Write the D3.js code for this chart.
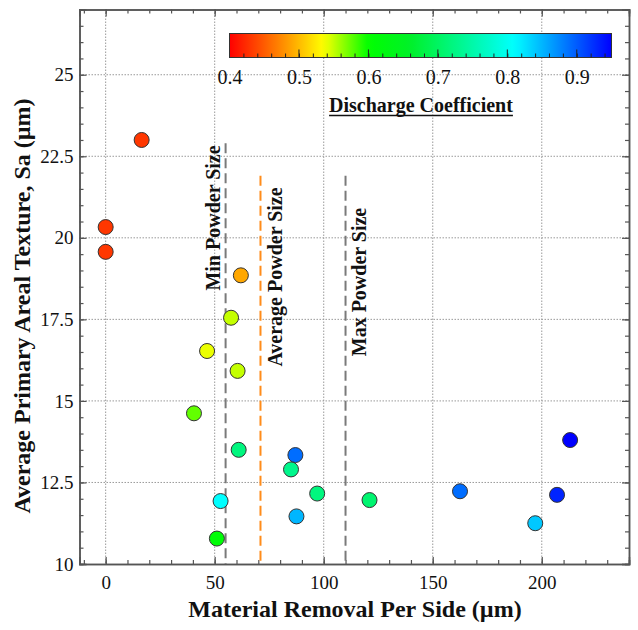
<!DOCTYPE html>
<html>
<head>
<meta charset="utf-8">
<script src="https://cdn.jsdelivr.net/npm/d3@7"></script>
<style>
  html, body { margin: 0; padding: 0; background: #fff; }
  svg { display: block; }
  text { font-family: "Liberation Serif", "Times New Roman", serif; fill: #111; }
</style>
</head>
<body>
<script>
// Material removal per side (µm)
const removal = [16.5, 0, 0, 62, 57.5, 46.5, 60.5, 40.5, 61, 87, 85, 97, 121, 52.7, 87.5, 51, 213, 162.5, 207, 197];
// Average primary areal texture Sa (µm)
const sa = [23.0, 20.33, 19.57, 18.85, 17.55, 16.53, 15.92, 14.62, 13.5, 13.34, 12.9, 12.16, 11.96, 11.93, 11.46, 10.78, 13.8, 12.23, 12.12, 11.25];
// Discharge coefficient (colour)
const discharge = [0.43, 0.43, 0.43, 0.49, 0.55, 0.54, 0.55, 0.575, 0.72, 0.89, 0.73, 0.72, 0.71, 0.81, 0.85, 0.61, 0.95, 0.89, 0.93, 0.84];

// Reference powder sizes (µm)
const powderNames = ["Min Powder Size", "Average Powder Size", "Max Powder Size"];
const powderSizes = [55, 71, 110];
const powderTops = [22.9, 21.9, 21.9];

const xTicks = [0, 50, 100, 150, 200];
const yTicks = [10, 12.5, 15, 17.5, 20, 22.5, 25];
const yTickLabels = ["10", "12.5", "15", "17.5", "20", "22.5", "25"];
const cbTicks = [0.4, 0.5, 0.6, 0.7, 0.8, 0.9];

const W = 638, H = 630;
const L = 79.5, R = 629, T = 9.5, B = 564;

const svg = d3.select("body").append("svg").attr("width", W).attr("height", H);
svg.append("rect").attr("width", W).attr("height", H).attr("fill", "#fff");

const x = d3.scaleLinear().domain([-12, 240]).range([L, R]);
const y = d3.scaleLinear().domain([10, 27]).range([B, T]);

// rainbow colour map, red -> yellow -> green -> cyan -> blue
const color = d3.scaleLinear()
  .domain([0.4, 0.47, 0.535, 0.6, 0.66, 0.81, 0.95])
  .range(["#ff0000", "#ff8000", "#ffff00", "#00ff00", "#00f028", "#00ffff", "#0000ff"])
  .clamp(true);

// grid
const grid = svg.append("g");
grid.selectAll("line.gx").data(xTicks).join("line")
  .attr("x1", d => x(d)).attr("x2", d => x(d)).attr("y1", T).attr("y2", B)
  .attr("stroke", "#9a9a9a").attr("stroke-width", 1).attr("stroke-dasharray", "1.5,1.5");
grid.selectAll("line.gy").data(yTicks.slice(1)).join("line")
  .attr("x1", L).attr("x2", R).attr("y1", d => y(d)).attr("y2", d => y(d))
  .attr("stroke", "#9a9a9a").attr("stroke-width", 1).attr("stroke-dasharray", "1.5,1.5");

// axes on all four sides, ticks pointing inward
const axisColor = "#555";
const xMinor = d3.range(-10, 241, 10);
const yMinor = d3.range(10, 27.01, 0.5);

const axBottom = svg.append("g").attr("transform", `translate(0,${B})`)
  .call(d3.axisBottom(x).tickValues(xMinor).tickSize(-4).tickFormat(""));
const axBottomMaj = svg.append("g").attr("transform", `translate(0,${B})`)
  .call(d3.axisBottom(x).tickValues(xTicks).tickSize(-7).tickPadding(12).tickFormat(d3.format("d")));
const axTop = svg.append("g").attr("transform", `translate(0,${T})`)
  .call(d3.axisTop(x).tickValues(xMinor).tickSize(-4).tickFormat(""));
const axTopMaj = svg.append("g").attr("transform", `translate(0,${T})`)
  .call(d3.axisTop(x).tickValues(xTicks).tickSize(-7).tickFormat(""));
const axLeft = svg.append("g").attr("transform", `translate(${L},0)`)
  .call(d3.axisLeft(y).tickValues(yMinor).tickSize(-4).tickFormat(""));
const axLeftMaj = svg.append("g").attr("transform", `translate(${L},0)`)
  .call(d3.axisLeft(y).tickValues(yTicks).tickSize(-7).tickPadding(6).tickFormat((d, i) => yTickLabels[i]));
const axRight = svg.append("g").attr("transform", `translate(${R},0)`)
  .call(d3.axisRight(y).tickValues(yMinor).tickSize(-4).tickFormat(""));
const axRightMaj = svg.append("g").attr("transform", `translate(${R},0)`)
  .call(d3.axisRight(y).tickValues(yTicks).tickSize(-7).tickFormat(""));

[axBottom, axBottomMaj, axTop, axTopMaj, axLeft, axLeftMaj, axRight, axRightMaj].forEach(g => {
  g.selectAll(".domain").attr("stroke", axisColor).attr("stroke-width", 1.5);
  g.selectAll(".tick line").attr("stroke", axisColor).attr("stroke-width", 1.2);
  g.selectAll(".tick text").attr("font-size", 19).attr("font-family", "Liberation Serif").attr("fill", "#111");
});

// powder size reference lines
const ref = svg.append("g");
powderSizes.forEach((v, i) => {
  ref.append("line")
    .attr("x1", x(v)).attr("x2", x(v)).attr("y1", y(powderTops[i])).attr("y2", B)
    .attr("stroke", i === 1 ? "#ff8c1a" : "#7a7a7a")
    .attr("stroke-width", 2)
    .attr("stroke-dasharray", "10,5");
});
const labelPos = [[213, 218], [275, 277], [359, 282]];
powderNames.forEach((name, i) => {
  ref.append("text")
    .attr("transform", `translate(${labelPos[i][0]},${labelPos[i][1]}) rotate(-90)`)
    .attr("text-anchor", "middle").attr("dy", "0.35em")
    .attr("font-size", 20).attr("font-weight", "bold")
    .text(name);
});

// data points
svg.append("g").selectAll("circle").data(removal).join("circle")
  .attr("cx", (d, i) => x(removal[i]))
  .attr("cy", (d, i) => y(sa[i]))
  .attr("r", 7.5)
  .attr("fill", (d, i) => color(discharge[i]))
  .attr("stroke", "#333").attr("stroke-width", 1);

// colour bar
const cbX0 = 229.5, cbX1 = 611.5, cbY0 = 33.5, cbY1 = 57.5;
const cb = d3.scaleLinear().domain([0.4, 0.95]).range([cbX0, cbX1]);
const defs = svg.append("defs");
const grad = defs.append("linearGradient").attr("id", "cbGrad")
  .attr("x1", "0%").attr("x2", "100%").attr("y1", "0%").attr("y2", "0%");
d3.range(0, 1.0001, 0.02).forEach(t => {
  grad.append("stop").attr("offset", `${t * 100}%`).attr("stop-color", color(0.4 + t * 0.55));
});
svg.append("rect")
  .attr("x", cbX0).attr("y", cbY0).attr("width", cbX1 - cbX0).attr("height", cbY1 - cbY0)
  .attr("fill", "url(#cbGrad)").attr("stroke", "#333").attr("stroke-width", 1);
const cbAxis = svg.append("g").attr("transform", `translate(0,${cbY1})`);
cbAxis.call(d3.axisTop(cb).tickValues(d3.range(0.42, 0.95, 0.02)).tickSize(4).tickFormat(""));
cbAxis.selectAll(".domain").remove();
cbAxis.selectAll(".tick line").attr("stroke", "#222").attr("stroke-width", 1);
const cbMaj = svg.append("g").attr("transform", `translate(0,${cbY1})`);
cbMaj.call(d3.axisBottom(cb).tickValues(cbTicks).tickSize(0).tickPadding(12).tickFormat(d3.format(".1f")));
cbMaj.selectAll(".domain").remove();
cbMaj.selectAll(".tick text").attr("font-size", 20).attr("font-family", "Liberation Serif").attr("fill", "#111");
svg.append("g").selectAll("line").data(cbTicks.slice(1)).join("line")
  .attr("x1", d => cb(d)).attr("x2", d => cb(d)).attr("y1", cbY1).attr("y2", cbY1 - 8)
  .attr("stroke", "#222").attr("stroke-width", 1);

const cbTitle = svg.append("text")
  .attr("x", 421).attr("y", 112).attr("text-anchor", "middle")
  .attr("font-size", 20).attr("font-weight", "bold")
  .text("Discharge Coefficient");
const tw = cbTitle.node().getComputedTextLength();
svg.append("line")
  .attr("x1", 421 - tw / 2).attr("x2", 421 + tw / 2).attr("y1", 115.5).attr("y2", 115.5)
  .attr("stroke", "#111").attr("stroke-width", 1.3);

// axis titles
svg.append("text")
  .attr("x", 355).attr("y", 617).attr("text-anchor", "middle")
  .attr("font-size", 24).attr("font-weight", "bold")
  .text("Material Removal Per Side (µm)");
svg.append("text")
  .attr("transform", "translate(22,306) rotate(-90)")
  .attr("text-anchor", "middle").attr("dy", "0.35em")
  .attr("font-size", 24).attr("font-weight", "bold")
  .text("Average Primary Areal Texture, Sa (µm)");
</script>
</body>
</html>
